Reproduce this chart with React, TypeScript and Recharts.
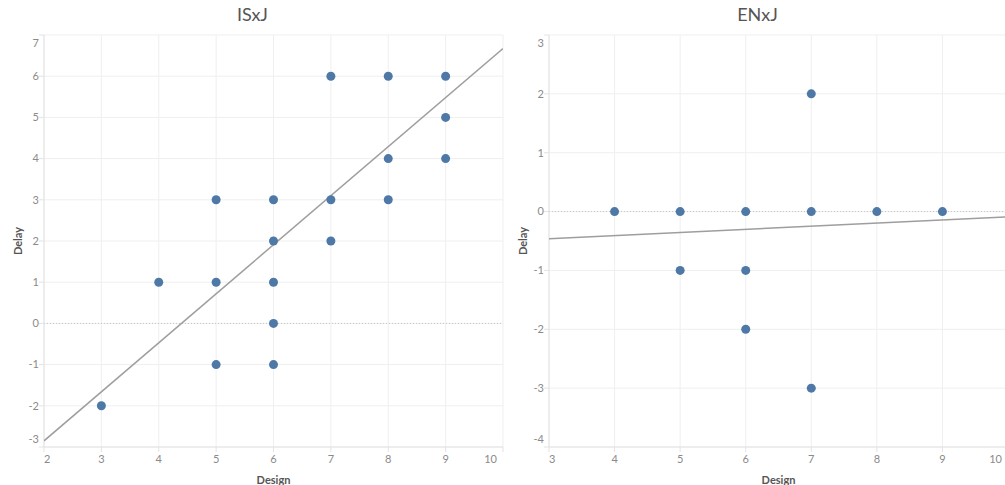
import React from "react";
import {
  ScatterChart,
  Scatter,
  XAxis,
  YAxis,
  CartesianGrid,
  ReferenceLine,
} from "recharts";

// ISxJ panel
const isxjDesign = [3, 4, 5, 5, 5, 6, 6, 6, 6, 6, 7, 7, 7, 8, 8, 8, 9, 9, 9];
const isxjDelay = [-2, 1, 3, 1, -1, 3, 2, 1, 0, -1, 6, 3, 2, 6, 4, 3, 6, 5, 4];
const isxjTrendX = [2, 10];
const isxjTrendY = [-2.85, 6.67];
const isxjXTicks = [2, 3, 4, 5, 6, 7, 8, 9, 10];
const isxjYTicks = [-3, -2, -1, 0, 1, 2, 3, 4, 5, 6, 7];

// ENxJ panel
const enxjDesign = [4, 5, 5, 6, 6, 6, 7, 7, 7, 8, 9];
const enxjDelay = [0, 0, -1, 0, -1, -2, 2, 0, -3, 0, 0];
const enxjTrendX = [3, 10];
const enxjTrendY = [-0.46, -0.09];
const enxjXTicks = [3, 4, 5, 6, 7, 8, 9, 10];
const enxjYTicks = [-4, -3, -2, -1, 0, 1, 2, 3];

const DOT = "#4e79a7";
const TICK = "#8a8a8a";
const LABEL = "#555555";
const GRID = "#efefef";
const AXIS = "#e3e3e3";
const FONT = "Lato, 'Open Sans', sans-serif";

const zip = (xs: number[], ys: number[]) => xs.map((x, i) => ({ x, y: ys[i] }));

const makeXTick = (min: number, max: number) => (props: any) => {
  const { x, y, payload } = props;
  const anchor = payload.value === min ? "start" : payload.value === max ? "end" : "middle";
  return (
    <text x={x} y={y} dy="0.71em" textAnchor={anchor} fill={TICK} fontSize={11} fontFamily={FONT}>
      {payload.value}
    </text>
  );
};

const makeYTick = (min: number, max: number) => (props: any) => {
  const { x, y, payload } = props;
  const shift = payload.value === max ? 8 : payload.value === min ? -8 : 0;
  return (
    <text x={x} y={y + shift} dy="0.35em" textAnchor="end" fill={TICK} fontSize={11} fontFamily={FONT}>
      {payload.value}
    </text>
  );
};

const DelayLabel = (props: any) => {
  const vb = props.viewBox || { x: 0, y: 35, width: 44, height: 412 };
  const cx = vb.x + 17;
  const cy = vb.y + vb.height / 2;
  return (
    <text
      x={cx}
      y={cy}
      transform={`rotate(-90, ${cx}, ${cy})`}
      textAnchor="middle"
      dominantBaseline="central"
      fill={LABEL}
      fontSize={11}
      fontWeight={700}
      fontFamily={FONT}
    >
      Delay
    </text>
  );
};

const Dot = (props: any) => <circle cx={props.cx} cy={props.cy} r={4.5} fill={DOT} />;
const NoDot = () => <g />;

interface PanelProps {
  title: string;
  left: number;
  design: number[];
  delay: number[];
  trendX: number[];
  trendY: number[];
  xTicks: number[];
  yTicks: number[];
}

const Panel = ({ title, left, design, delay, trendX, trendY, xTicks, yTicks }: PanelProps) => {
  const xMin = xTicks[0];
  const xMax = xTicks[xTicks.length - 1];
  const yMin = yTicks[0];
  const yMax = yTicks[yTicks.length - 1];
  return (
    <div style={{ position: "absolute", left, top: 0, width: 505, height: 485 }}>
      <div
        style={{
          position: "absolute",
          left: 0,
          top: 2,
          width: 505,
          textAlign: "center",
          fontSize: 18,
          lineHeight: "24px",
          color: "#555",
          fontFamily: FONT,
        }}
      >
        {title}
      </div>
      <ScatterChart width={505} height={485} margin={{ top: 35, right: 2, bottom: 0, left: 0 }}>
        <CartesianGrid stroke={GRID} />
        <XAxis
          type="number"
          dataKey="x"
          domain={[xMin, xMax]}
          ticks={xTicks}
          height={38}
          allowDataOverflow
          axisLine={{ stroke: AXIS }}
          tickLine={{ stroke: AXIS }}
          tickSize={5}
          tickMargin={3}
          tick={makeXTick(xMin, xMax)}
          label={{
            value: "Design",
            position: "insideBottom",
            offset: 1,
            fill: LABEL,
            fontSize: 11,
            fontWeight: 700,
            fontFamily: FONT,
          }}
        />
        <YAxis
          type="number"
          dataKey="y"
          domain={[yMin, yMax]}
          ticks={yTicks}
          width={44}
          allowDataOverflow
          axisLine={{ stroke: AXIS }}
          tickLine={{ stroke: AXIS }}
          tickSize={5}
          tickMargin={0}
          tick={makeYTick(yMin, yMax)}
          label={<DelayLabel />}
        />
        <ReferenceLine y={0} stroke="#c4c4c4" strokeDasharray="1 2" />
        <Scatter
          data={zip(trendX, trendY)}
          line={{ stroke: "#9e9e9e", strokeWidth: 1.5 }}
          shape={NoDot}
          isAnimationActive={false}
        />
        <Scatter data={zip(design, delay)} shape={Dot} isAnimationActive={false} />
      </ScatterChart>
    </div>
  );
};

export default function App() {
  return (
    <div
      style={{
        position: "absolute",
        left: 0,
        top: 0,
        width: 1005,
        height: 485,
        overflow: "hidden",
        background: "#fff",
      }}
    >
      <Panel
        title="ISxJ"
        left={0}
        design={isxjDesign}
        delay={isxjDelay}
        trendX={isxjTrendX}
        trendY={isxjTrendY}
        xTicks={isxjXTicks}
        yTicks={isxjYTicks}
      />
      <Panel
        title="ENxJ"
        left={505}
        design={enxjDesign}
        delay={enxjDelay}
        trendX={enxjTrendX}
        trendY={enxjTrendY}
        xTicks={enxjXTicks}
        yTicks={enxjYTicks}
      />
    </div>
  );
}
